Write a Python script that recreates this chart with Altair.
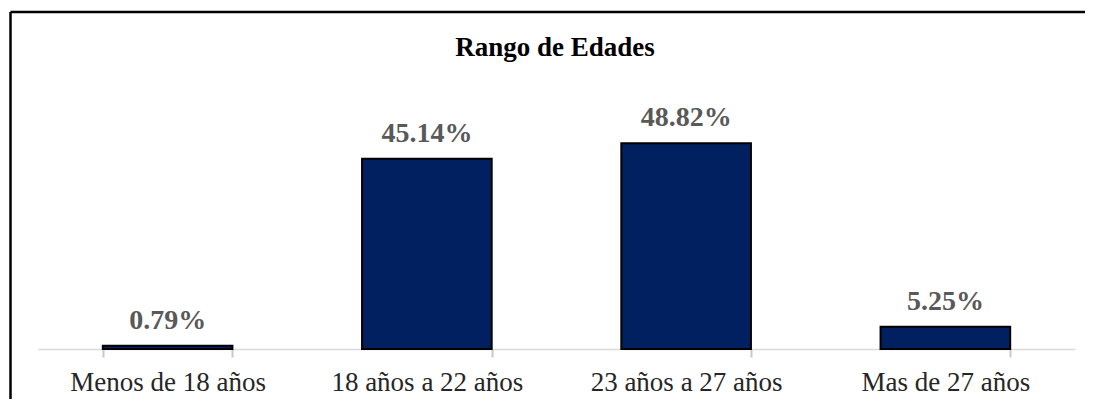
import altair as alt
import pandas as pd

titulo = "Rango de Edades"
categorias = ["Menos de 18 años", "18 años a 22 años", "23 años a 27 años", "Mas de 27 años"]
porcentajes = [0.79, 45.14, 48.82, 5.25]
etiquetas = [f"{v:.2f}%" for v in porcentajes]

df = pd.DataFrame({"cat": categorias, "val": porcentajes, "lab": etiquetas})

SERIF = "Liberation Serif"

x_enc = alt.X("cat:N", sort=categorias, title=None,
              scale=alt.Scale(paddingInner=0.5, paddingOuter=0.25),
              axis=alt.Axis(labelAngle=0, labelFont=SERIF, labelFontSize=27,
                            labelColor="#262626", labelBaseline="alphabetic",
                            labelPadding=33, labelLimit=0, ticks=True, tickSize=8,
                            tickBand="extent", tickExtra=True,
                            tickColor="#c8c8c8", tickWidth=2,
                            domainColor="#d9d9d9", domainWidth=1.5))
y_enc = alt.Y("val:Q", scale=alt.Scale(domain=[0, 60], nice=False), axis=None)

base = alt.Chart(df)

bars = base.mark_bar(color="#002060", stroke="black", strokeWidth=2).encode(x=x_enc, y=y_enc)

texts = base.mark_text(font=SERIF, fontSize=28, fontWeight="bold", color="#595959",
                       baseline="alphabetic", dy=-17).encode(
    x=alt.X("cat:N", sort=categorias), y="val:Q", text="lab:N")

frame_df = pd.DataFrame({"t": [titulo]})
title_mark = alt.Chart(frame_df).mark_text(font=SERIF, fontSize=27, fontWeight="bold",
                                           color="black", baseline="alphabetic",
                                           align="center").encode(
    x=alt.value(517), y=alt.value(-40), text="t:N")
top_line = alt.Chart(frame_df).mark_rule(color="black", strokeWidth=2.5).encode(
    x=alt.value(-27.5), x2=alt.value(1200), y=alt.value(-84))
left_line = alt.Chart(frame_df).mark_rule(color="black", strokeWidth=2.5).encode(
    x=alt.value(-27.5), y=alt.value(-84), y2=alt.value(400))

chart = alt.layer(bars, texts, title_mark, top_line, left_line).properties(
    width=1037, height=253,
    padding={"left": 30, "top": 88, "right": 10, "bottom": 50},
    autosize=alt.AutoSizeParams(type="none"),
    background="white",
).configure_view(stroke=None)

chart.save("out.html", embed_options={"renderer": "svg", "actions": False})
